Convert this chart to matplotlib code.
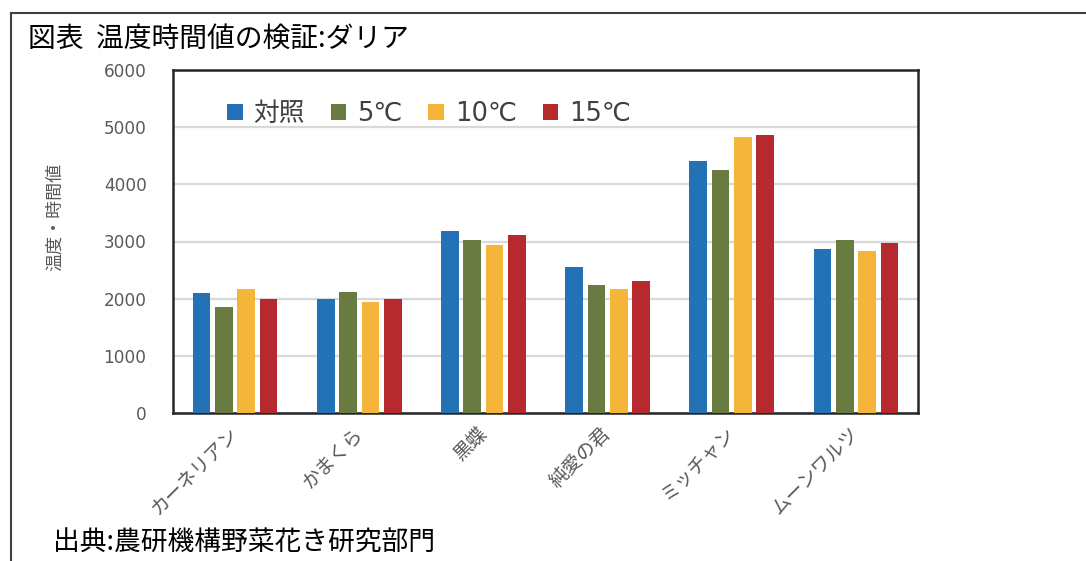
import matplotlib
matplotlib.use("Agg")
import matplotlib.pyplot as plt
import matplotlib.transforms as mtransforms
from matplotlib.lines import Line2D
import numpy as np

plt.rcParams['font.family'] = ['Noto Sans CJK JP', 'DejaVu Sans']

categories = ["カーネリアン", "かまくら", "黒蝶", "純愛の君", "ミッチャン", "ムーンワルツ"]
series_names = ["対照", "5℃", "10℃", "15℃"]
control = [2095, 1995, 3180, 2550, 4400, 2870]
t5 = [1855, 2120, 3025, 2235, 4245, 3025]
t10 = [2170, 1940, 2940, 2175, 4825, 2835]
t15 = [1995, 1995, 3105, 2310, 4855, 2975]
yticks = [0, 1000, 2000, 3000, 4000, 5000, 6000]
colors = ["#2372B6", "#6A7B42", "#F5B53B", "#B5292F"]

title = "図表  温度時間値の検証:ダリア"
source = "出典:農研機構野菜花き研究部門"
ylabel = "温度・時間値"

fig = plt.figure(figsize=(10.86, 5.61), dpi=100)
ax = fig.add_axes([173/1086, 1-413/561, 745/1086, 343/561])

x = np.arange(len(categories))
pitch = 0.18
width = 0.142
data = [control, t5, t10, t15]
for i, (vals, name, c) in enumerate(zip(data, series_names, colors)):
    ax.bar(x + (i - 1.5) * pitch, vals, width=width, color=c, label=name, zorder=3)

ax.set_xlim(-0.5, len(categories) - 0.5)
ax.set_ylim(0, 6000)
ax.set_yticks(yticks)
ax.set_yticklabels([str(v) for v in yticks], fontsize=12.2, color="#595959",
                   family=['DejaVu Sans'])
ax.tick_params(axis='y', length=0, pad=19)
ax.tick_params(axis='x', length=0, pad=4)
ax.grid(axis='y', color="#D9D9D9", linewidth=1.6, zorder=0)
ax.set_xticks(x)
ax.set_xticklabels(categories, rotation=45, ha='right', va='center',
                   rotation_mode='anchor', fontsize=13.8, color="#595959")
offset = mtransforms.ScaledTranslation(0, -12/100, fig.dpi_scale_trans)
for lab in ax.get_xticklabels():
    lab.set_transform(lab.get_transform() + offset)

for sp in ax.spines.values():
    sp.set_color("#262626")
    sp.set_linewidth(1.8)

fig.text(55/1086, 1-217/561, ylabel, rotation=90, ha='center', va='center',
         fontsize=13, color="#595959")

leg = ax.legend(ncol=4, loc='center left', bbox_to_anchor=(0.072, 0.872),
                frameon=False, borderpad=0, borderaxespad=0,
                handlelength=0.62, handleheight=0.62, handletextpad=0.42,
                columnspacing=1.0, prop={'family': ['DejaVu Sans', 'Noto Sans CJK JP'], 'size': 18.5})
for t in leg.get_texts():
    t.set_color("#404040")

fig.text(28/1086, 1-39/561, title, ha='left', va='center', fontsize=20, color="#000000")
fig.text(53/1086, 1-543/561, source, ha='left', va='center', fontsize=19.3, color="#000000")

fig.add_artist(Line2D([10.5/1086, 10.5/1086], [0, 1-12.5/561], transform=fig.transFigure,
                      color="#404040", linewidth=1.5))
fig.add_artist(Line2D([10.5/1086, 1], [1-12.5/561, 1-12.5/561], transform=fig.transFigure,
                      color="#404040", linewidth=1.5))

fig.savefig("out.png", dpi=100)
